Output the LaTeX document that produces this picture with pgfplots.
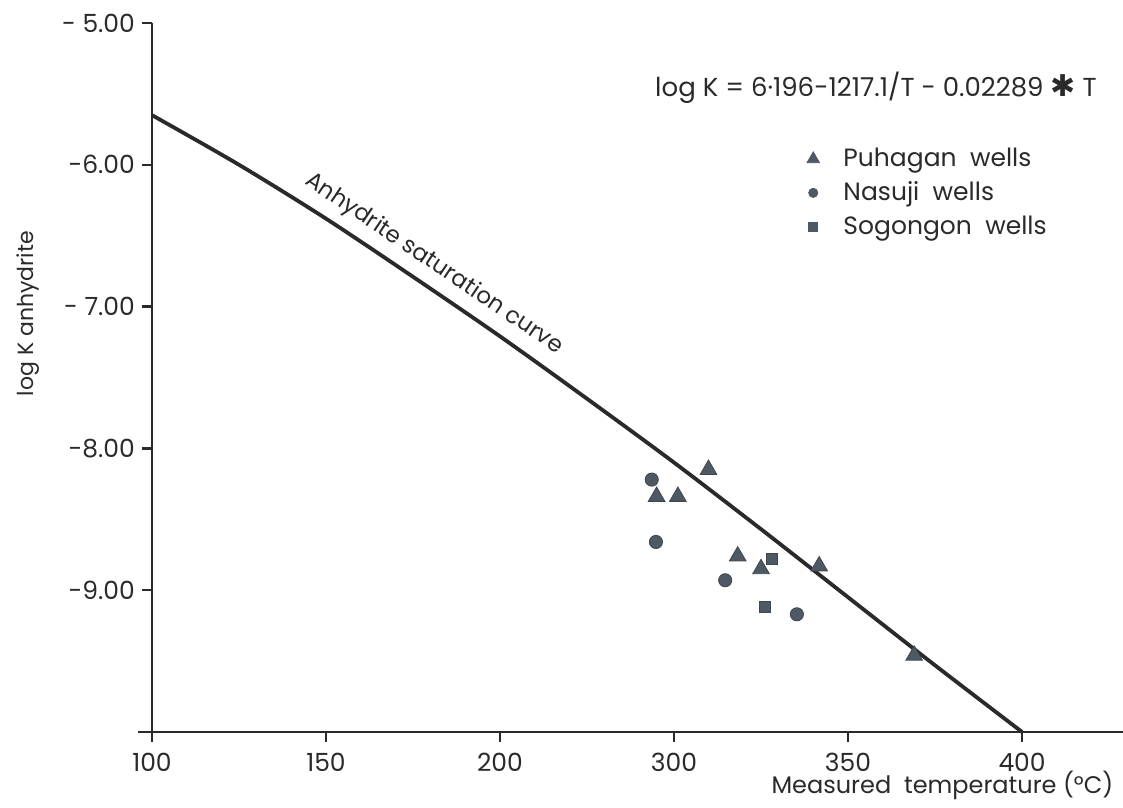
\documentclass[border=0pt]{standalone}
\usepackage{fontspec}
\setmainfont{Poppins}
\newfontfamily\dejavu{DejaVu Sans}
\usepackage{pgfplots}
\pgfplotsset{compat=1.18}
\definecolor{ink}{HTML}{2A2A2A}
\definecolor{mk}{HTML}{4E5964}
\newcommand{\lbl}{\fontsize{12.5}{14}\selectfont}
\begin{document}
\begin{tikzpicture}
\begin{axis}[
    scale only axis,
    width=485.5pt, height=354.5pt,
    xmin=100, xmax=379, ymin=-10, ymax=-5,
    axis lines=left,
    axis line style={ink, line width=1.4pt, -},
    xtick={100,150,200,250,300,350},
    xticklabels={100,150,200,300,350,400},
    ytick={-9,-8,-7,-6,-5},
    yticklabels={-9.00,-8.00,- 7.00,-6.00,- 5.00},
    tick align=outside,
    major tick length=5pt,
    tick style={ink, line width=1.2pt},
    ticklabel style={font=\lbl, text=ink},
    xticklabel style={yshift=-2pt},
    ylabel={log K anhydrite},
    ylabel style={at={(axis description cs:-0.128,0.59)}, anchor=center, font=\fontsize{11}{13}\selectfont, text=ink},
    clip=false,
    legend style={at={(axis description cs:0.668,0.835)}, anchor=north west, draw=none, fill=none,
        font=\lbl, text=ink, row sep=2pt, cells={anchor=west}},
    legend cell align=left,
]
% saturation curve
\addplot[ink, line width=1.9pt, smooth, forget plot] coordinates {
(100,-5.65) (125,-6.00) (150,-6.38) (175,-6.79) (200,-7.21) (225,-7.65)
(250,-8.10) (275,-8.57) (300,-9.05) (325,-9.53) (350,-10.0)};
% Puhagan wells
\addplot[only marks, mark=triangle*, mark size=4.8pt, mark options={fill=mk, draw=mk!80!black, line width=0.4pt}, forget plot] coordinates {
(245.0,-8.34) (251.1,-8.34) (259.9,-8.15) (268.3,-8.76) (275.0,-8.85) (291.7,-8.83) (319.0,-9.46)};
% Nasuji wells
\addplot[only marks, mark=*, mark size=3.3pt, mark options={fill=mk, draw=mk!80!black, line width=0.4pt}, forget plot] coordinates {
(243.6,-8.22) (244.8,-8.66) (264.7,-8.93) (285.3,-9.17)};
% Sogongon wells
\addplot[only marks, mark=square*, mark size=2.8pt, mark options={fill=mk, draw=mk!80!black, line width=0.4pt}, forget plot] coordinates {
(278.1,-8.78) (276.2,-9.12)};
\addlegendimage{only marks, mark=triangle*, mark size=3.6pt, mark options={fill=mk, draw=mk}}
\addlegendentry{\hspace{10pt}Puhagan\ \ wells}
\addlegendimage{only marks, mark=*, mark size=2.3pt, mark options={fill=mk, draw=mk}}
\addlegendentry{\hspace{10pt}Nasuji\ \ wells}
\addlegendimage{only marks, mark=square*, mark size=2.2pt, mark options={fill=mk, draw=mk}}
\addlegendentry{\hspace{10pt}Sogongon\ \ wells}
\draw[ink, line width=1.4pt] (axis cs:96,-10) -- (axis cs:100,-10);
\node[ink, font=\fontsize{11.5}{13}\selectfont, rotate=-34] at (axis cs:181,-6.70) {Anhydrite saturation curve};
\node[ink, font=\fontsize{13}{15}\selectfont] at (axis description cs:0.7456,0.908) {log K = 6·196-1217.1/T - 0.02289 {\dejavu\fontsize{15}{15}\selectfont ✱} T};
\node[ink, font=\fontsize{12}{14}\selectfont] at (axis description cs:0.814,-0.075) {Measured\ \ temperature (°C)};
\coordinate (bl) at (axis description cs:-0.1565,-0.1058);
\coordinate (tr) at (axis description cs:1.0,1.0324);
\end{axis}
\pgfresetboundingbox
\path[use as bounding box] (bl) rectangle (tr);
\end{tikzpicture}
\end{document}
